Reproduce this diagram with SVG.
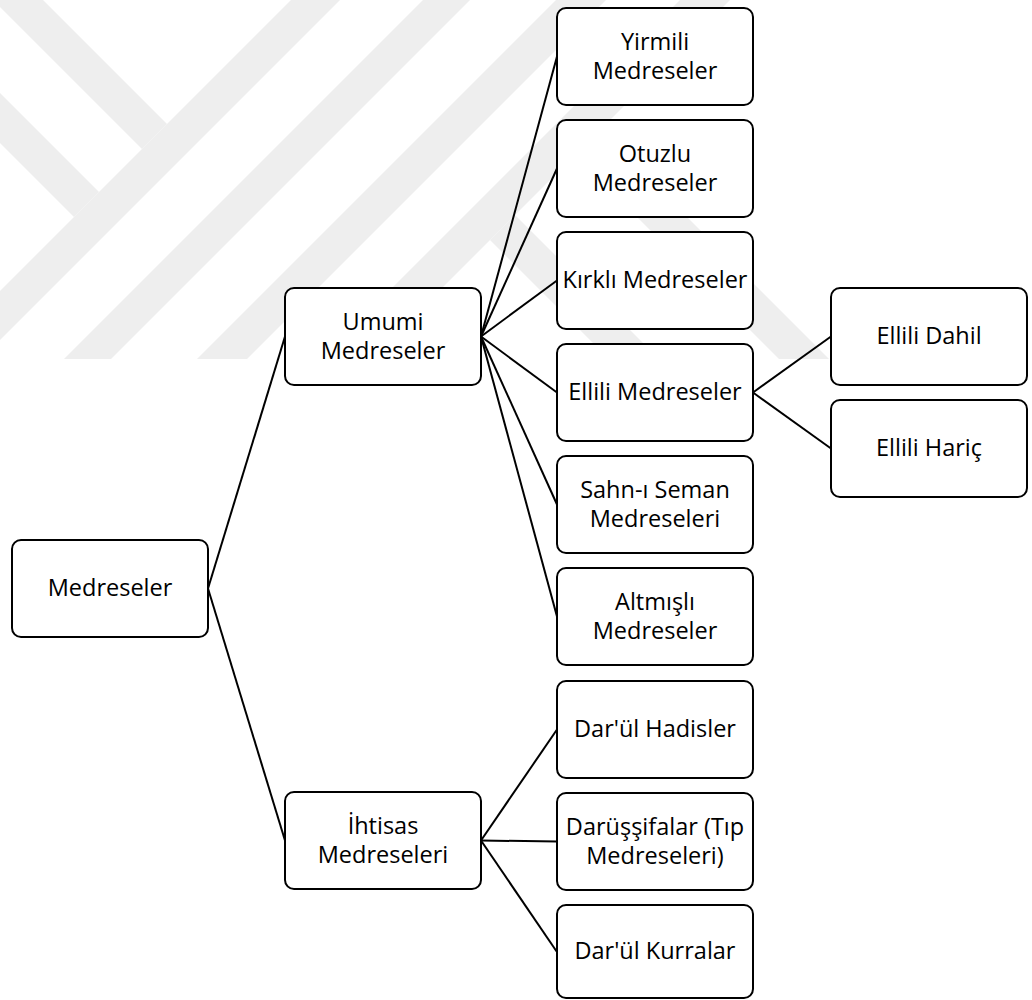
<svg xmlns="http://www.w3.org/2000/svg" width="1032" height="1000" viewBox="0 0 1032 1000">
<style>
.box{fill:#fff;stroke:#000;stroke-width:2}
.lbl{font-family:"Open Sans","DejaVu Sans",sans-serif;font-size:23.5px;fill:#000;text-anchor:middle}
.edge{stroke:#000;stroke-width:2;fill:none}
.wm{fill:#eeeeee}
</style>
<defs>
<clipPath id="wmclip"><rect x="0" y="0" width="1032" height="359"/></clipPath>
</defs>
<rect x="0" y="0" width="1032" height="1000" fill="#fff"/>
<g id="watermark" clip-path="url(#wmclip)">
<polygon class="wm" points="0,0 43,0 167,124 142,149 0,7"/>
<polygon class="wm" points="0,93 99,192 74,217 0,143"/>
<polygon class="wm" points="291,0 340,0 0,340 0,291"/>
<polygon class="wm" points="423,0 470,0 100,370 53,370"/>
<polygon class="wm" points="556,0 606,0 236,370 186,370"/>
<polygon class="wm" points="680,0 730,0 360,370 310,370"/>
<polygon class="wm" points="515,215 670,370 620,370 490,240"/>
<polygon class="wm" points="600,130 840,370 790,370 575,155"/>
</g>
<g id="connectors">
<line class="edge" x1="208" y1="588.5" x2="285" y2="336.5"/>
<line class="edge" x1="208" y1="588.5" x2="285" y2="840.5"/>
<line class="edge" x1="481" y1="336.5" x2="557" y2="56.5"/>
<line class="edge" x1="481" y1="336.5" x2="557" y2="168.5"/>
<line class="edge" x1="481" y1="336.5" x2="557" y2="280.5"/>
<line class="edge" x1="481" y1="336.5" x2="557" y2="392.5"/>
<line class="edge" x1="481" y1="336.5" x2="557" y2="504.5"/>
<line class="edge" x1="481" y1="336.5" x2="557" y2="616.5"/>
<line class="edge" x1="753" y1="392.5" x2="831" y2="336.5"/>
<line class="edge" x1="753" y1="392.5" x2="831" y2="448.5"/>
<line class="edge" x1="481" y1="840.5" x2="557" y2="729.5"/>
<line class="edge" x1="481" y1="840.5" x2="557" y2="841.5"/>
<line class="edge" x1="481" y1="840.5" x2="557" y2="952"/>
</g>
<g id="n-medreseler"><rect class="box" x="12" y="540" width="196" height="97" rx="9"/><text class="lbl" x="110" y="596">Medreseler</text></g>
<g id="n-umumi"><rect class="box" x="285" y="288" width="196" height="97" rx="9"/><text class="lbl" x="383" y="330">Umumi</text><text class="lbl" x="383" y="359">Medreseler</text></g>
<g id="n-ihtisas"><rect class="box" x="285" y="792" width="196" height="97" rx="9"/><text class="lbl" x="383" y="834">İhtisas</text><text class="lbl" x="383" y="863">Medreseleri</text></g>
<g id="n-yirmili"><rect class="box" x="557" y="8" width="196" height="97" rx="9"/><text class="lbl" x="655" y="50">Yirmili</text><text class="lbl" x="655" y="79">Medreseler</text></g>
<g id="n-otuzlu"><rect class="box" x="557" y="120" width="196" height="97" rx="9"/><text class="lbl" x="655" y="162">Otuzlu</text><text class="lbl" x="655" y="191">Medreseler</text></g>
<g id="n-kirkli"><rect class="box" x="557" y="232" width="196" height="97" rx="9"/><text class="lbl" x="655" y="288">Kırklı Medreseler</text></g>
<g id="n-ellili"><rect class="box" x="557" y="344" width="196" height="97" rx="9"/><text class="lbl" x="655" y="400">Ellili Medreseler</text></g>
<g id="n-sahn"><rect class="box" x="557" y="456" width="196" height="97" rx="9"/><text class="lbl" x="655" y="498">Sahn-ı Seman</text><text class="lbl" x="655" y="527">Medreseleri</text></g>
<g id="n-altmisli"><rect class="box" x="557" y="568" width="196" height="97" rx="9"/><text class="lbl" x="655" y="610">Altmışlı</text><text class="lbl" x="655" y="639">Medreseler</text></g>
<g id="n-dahil"><rect class="box" x="831" y="288" width="196" height="97" rx="9"/><text class="lbl" x="929" y="344">Ellili Dahil</text></g>
<g id="n-haric"><rect class="box" x="831" y="400" width="196" height="97" rx="9"/><text class="lbl" x="929" y="456">Ellili Hariç</text></g>
<g id="n-hadis"><rect class="box" x="557" y="681" width="196" height="97" rx="9"/><text class="lbl" x="655" y="737">Dar'ül Hadisler</text></g>
<g id="n-sifa"><rect class="box" x="557" y="793" width="196" height="97" rx="9"/><text class="lbl" x="655" y="835">Darüşşifalar (Tıp</text><text class="lbl" x="655" y="864">Medreseleri)</text></g>
<g id="n-kurra"><rect class="box" x="557" y="905" width="196" height="93" rx="9"/><text class="lbl" x="655" y="959">Dar'ül Kurralar</text></g>
</svg>
